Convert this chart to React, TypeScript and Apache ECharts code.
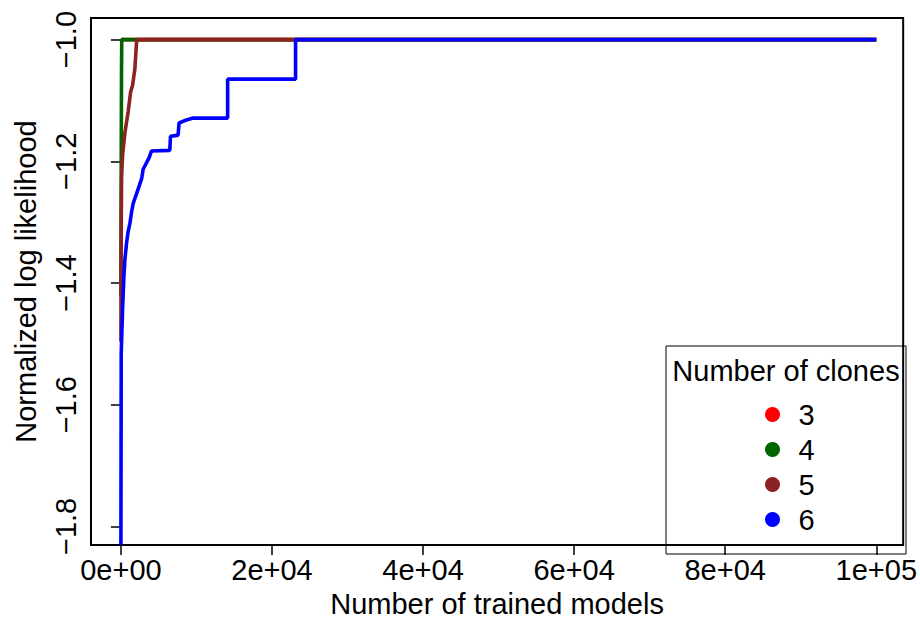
import React, { useEffect, useRef } from "react";
import * as echarts from "echarts";

const seriesNames = ["3", "4", "5", "6"];
const seriesColors = ["#FF0000", "#006400", "#8B2323", "#0000FF"];

// [number of trained models, normalized log likelihood]
const clones3: [number, number][] = [
  [0, -1.0],
  [100000, -1.0],
];
const clones4: [number, number][] = [
  [0, -1.42],
  [20, -1.32],
  [40, -1.2],
  [60, -1.12],
  [80, -1.05],
  [110, -1.0],
  [100000, -1.0],
];
const clones5: [number, number][] = [
  [0, -1.496],
  [30, -1.321],
  [90, -1.226],
  [225, -1.189],
  [530, -1.153],
  [965, -1.118],
  [1280, -1.086],
  [1545, -1.075],
  [1850, -1.048],
  [2075, -1.003],
  [2110, -1.0],
  [100000, -1.0],
];
const clones6: [number, number][] = [
  [0, -1.83],
  [40, -1.517],
  [90, -1.495],
  [225, -1.441],
  [400, -1.388],
  [530, -1.361],
  [750, -1.334],
  [965, -1.315],
  [1190, -1.302],
  [1415, -1.283],
  [1625, -1.269],
  [2075, -1.253],
  [2735, -1.229],
  [2945, -1.213],
  [3740, -1.194],
  [4055, -1.183],
  [6470, -1.182],
  [6565, -1.159],
  [7570, -1.157],
  [7700, -1.137],
  [8680, -1.132],
  [9550, -1.129],
  [14130, -1.129],
  [14130, -1.065],
  [23120, -1.065],
  [23120, -1.0],
  [100000, -1.0],
];
const seriesData = [clones3, clones4, clones5, clones6];

const xTicks = [0, 20000, 40000, 60000, 80000, 100000];
const xTickLabels = ["0e+00", "2e+04", "4e+04", "6e+04", "8e+04", "1e+05"];
const yTicks = [-1.8, -1.6, -1.4, -1.2, -1.0];
const yTickLabels = ["\u22121.8", "\u22121.6", "\u22121.4", "\u22121.2", "\u22121.0"];

const FONT = "'Liberation Sans', Arial, Helvetica, sans-serif";
const FS = 29;

function nearestLabel(v: number, ticks: number[], labels: string[]) {
  let best = 0;
  for (let i = 1; i < ticks.length; i++) {
    if (Math.abs(ticks[i] - v) < Math.abs(ticks[best] - v)) best = i;
  }
  return labels[best];
}

export default function App() {
  const ref = useRef<HTMLDivElement>(null);
  useEffect(() => {
    if (!ref.current) return;
    const chart = echarts.init(ref.current, undefined, { renderer: "svg" });
    chart.setOption({
      animation: false,
      backgroundColor: "#ffffff",
      textStyle: { fontFamily: FONT },
      grid: {
        left: 91,
        right: 14,
        top: 18,
        bottom: 69,
        show: true,
        borderColor: "#000",
        borderWidth: 2,
        containLabel: false,
      },
      xAxis: {
        type: "value",
        min: -3960,
        max: 103560,
        name: "Number of trained models",
        nameLocation: "middle",
        nameGap: 42,
        nameTextStyle: { fontSize: FS, color: "#000", fontFamily: FONT },
        axisLine: { show: false },
        splitLine: { show: false },
        axisTick: {
          show: true,
          customValues: xTicks,
          length: 10,
          lineStyle: { color: "#000", width: 1.5 },
        },
        axisLabel: {
          customValues: xTicks,
          margin: 10,
          fontSize: FS,
          color: "#000",
          fontFamily: FONT,
          formatter: (v: number) => nearestLabel(v, xTicks, xTickLabels),
        },
      },
      yAxis: {
        type: "value",
        min: -1.8307,
        max: -0.9645,
        name: "Normalized log likelihood",
        nameLocation: "middle",
        nameGap: 51,
        nameTextStyle: { fontSize: FS, color: "#000", fontFamily: FONT },
        axisLine: { show: false },
        splitLine: { show: false },
        axisTick: {
          show: true,
          customValues: yTicks,
          length: 10,
          lineStyle: { color: "#000", width: 1.5 },
        },
        axisLabel: {
          customValues: yTicks,
          rotate: 90,
          margin: 11,
          fontSize: FS,
          color: "#000",
          fontFamily: FONT,
          formatter: (v: number) => nearestLabel(v, yTicks, yTickLabels),
        },
      },
      legend: {
        data: seriesNames,
        orient: "vertical",
        left: 760,
        top: 392,
        icon: "circle",
        itemWidth: 42,
        itemHeight: 15,
        itemGap: 0,
        textStyle: { fontSize: FS, lineHeight: 35, color: "#000", fontFamily: FONT },
      },
      graphic: [
        {
          type: "rect",
          shape: { x: 666, y: 346, width: 240, height: 208 },
          style: { fill: "none", stroke: "#000", lineWidth: 1 },
          z: 10,
        },
        {
          type: "text",
          x: 786,
          y: 371,
          style: {
            text: "Number of clones",
            fontSize: FS,
            fontFamily: FONT,
            fill: "#000",
            textAlign: "center",
            textVerticalAlign: "middle",
          },
          z: 10,
        },
      ],
      series: seriesNames.map((name, i) => ({
        name,
        type: "line",
        data: seriesData[i],
        showSymbol: false,
        symbol: "none",
        color: seriesColors[i],
        itemStyle: { color: seriesColors[i] },
        lineStyle: { color: seriesColors[i], width: 3.6 },
        z: 2 + i,
        clip: true,
      })),
    });
    return () => chart.dispose();
  }, []);
  return (
    <div
      ref={ref}
      style={{ position: "fixed", left: 0, top: 0, width: 920, height: 623 }}
    />
  );
}
